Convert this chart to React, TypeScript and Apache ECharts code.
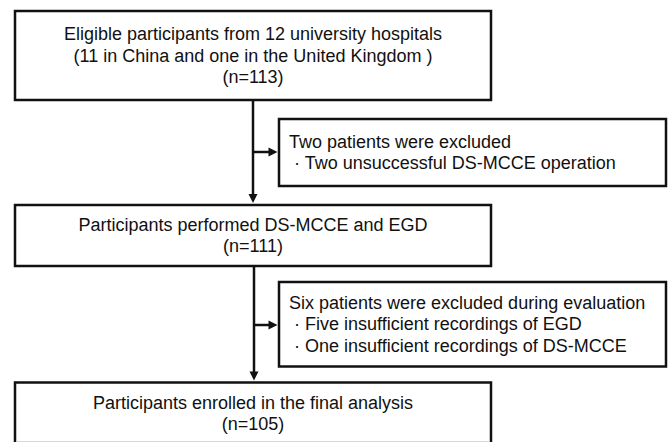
import React, { useEffect, useRef } from "react";
import * as echarts from "echarts";

// Flowchart content
const stepTitles = [
  ["Eligible participants from 12 university hospitals", "(11 in China and one in the United Kingdom )"],
  ["Participants performed DS-MCCE and EGD"],
  ["Participants enrolled in the final analysis"],
];
const stepCounts = [113, 111, 105];
const exclusionHeaders = ["Two patients were excluded", "Six patients were excluded during evaluation"];
const exclusionReasons = [
  ["Two unsuccessful DS-MCCE operation"],
  ["Five insufficient recordings of EGD", "One insufficient recordings of DS-MCCE"],
];

// Layout (positions / sizes)
const mainLayout = [
  { x: 15, y: 11, w: 476, h: 89 },
  { x: 15, y: 205, w: 476, h: 61 },
  { x: 15, y: 382.5, w: 476, h: 70 },
];
const exclLayout = [
  { x: 279, y: 119, w: 387, h: 67 },
  { x: 279, y: 282, w: 387, h: 84.5 },
];
const LINE_H = 21.3;
const FONT = '18px "Liberation Sans", Arial, Helvetica, sans-serif';
const INK = "#111111";
const LW = 2.5;

export default function App() {
  const ref = useRef<HTMLDivElement>(null);
  useEffect(() => {
    document.body.style.margin = "0";
    const chart = echarts.init(ref.current!, undefined, { renderer: "svg" });
    const els: any[] = [];

    // main boxes
    mainLayout.forEach((b, i) => {
      els.push({
        type: "rect",
        shape: { x: b.x, y: b.y, width: b.w, height: b.h },
        style: { fill: "#fff", stroke: INK, lineWidth: LW },
        z: 1,
      });
      const lines = [...stepTitles[i], `(n=${stepCounts[i]})`];
      const cy = i === 2 ? 413.5 : b.y + b.h / 2;
      const startY = cy - ((lines.length - 1) * LINE_H) / 2;
      lines.forEach((t, k) => {
        els.push({
          type: "text",
          x: b.x + b.w / 2,
          y: startY + k * LINE_H,
          style: { text: t, font: FONT, fill: INK, textAlign: "center", textVerticalAlign: "middle" },
          z: 3,
        });
      });
    });

    // faint edge line at the bottom of the picture
    els.push({
      type: "line",
      shape: { x1: 17, y1: 441.5, x2: 489, y2: 441.5 },
      style: { stroke: "#d8d8d8", lineWidth: 1 },
      z: 4,
    });

    // exclusion boxes
    exclLayout.forEach((b, i) => {
      els.push({
        type: "rect",
        shape: { x: b.x, y: b.y, width: b.w, height: b.h },
        style: { fill: "#fff", stroke: INK, lineWidth: LW },
        z: 1,
      });
      const lines = [exclusionHeaders[i], ...exclusionReasons[i].map((r) => " \u00b7 " + r)];
      const cy = b.y + b.h / 2;
      const startY = cy - ((lines.length - 1) * LINE_H) / 2;
      lines.forEach((t, k) => {
        els.push({
          type: "text",
          x: b.x + 10,
          y: startY + k * LINE_H,
          style: { text: t, font: FONT, fill: INK, textAlign: "left", textVerticalAlign: "middle" },
          z: 3,
        });
      });
    });

    // connectors
    const spineX = [253, 254];
    for (let i = 0; i < 2; i++) {
      const top = mainLayout[i].y + mainLayout[i].h;
      const tip = mainLayout[i + 1].y - 2;
      const x = spineX[i];
      els.push({
        type: "line",
        shape: { x1: x, y1: top, x2: x, y2: tip - 7 },
        style: { stroke: INK, lineWidth: LW },
        z: 2,
      });
      els.push({
        type: "polygon",
        shape: { points: [[x - 4.5, tip - 9], [x + 4.5, tip - 9], [x, tip]] },
        style: { fill: INK },
        z: 2,
      });
      const e = exclLayout[i];
      const ay = i === 0 ? 152 : 325;
      const ex = e.x - 1.5;
      els.push({
        type: "line",
        shape: { x1: x, y1: ay, x2: ex - 7, y2: ay },
        style: { stroke: INK, lineWidth: LW },
        z: 2,
      });
      els.push({
        type: "polygon",
        shape: { points: [[ex - 9, ay - 4.5], [ex - 9, ay + 4.5], [ex, ay]] },
        style: { fill: INK },
        z: 2,
      });
    }

    chart.setOption({
      animation: false,
      backgroundColor: "#ffffff",
      graphic: { elements: els },
    });
    return () => chart.dispose();
  }, []);
  return <div ref={ref} style={{ width: 670, height: 442 }} />;
}
